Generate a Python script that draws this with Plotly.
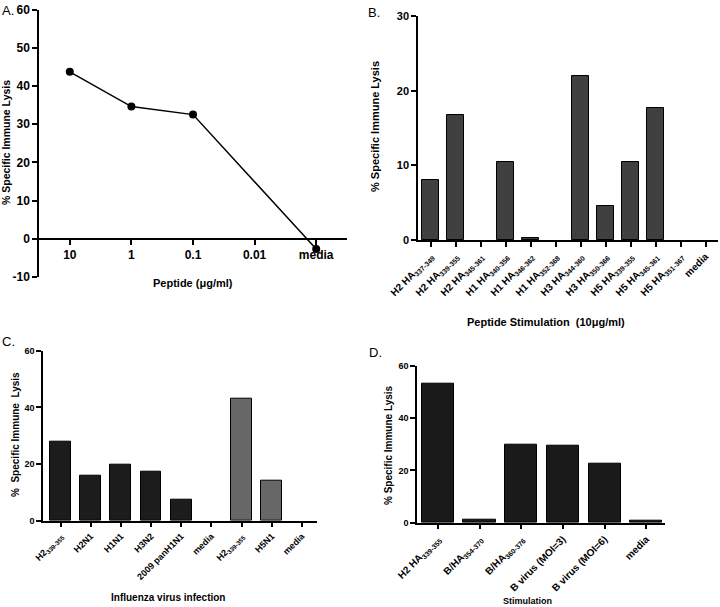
import plotly.graph_objects as go

W, H = 720, 607

# ---------------- data ----------------
a_doses = ["10", "1", "0.1", "0.01", "media"]
a_x = ["10", "1", "0.1", "media"]
a_lysis = [43.7, 34.6, 32.5, -2.7]
a_yticks = [-10, 0, 10, 20, 30, 40, 50, 60]

b_labels = ["H2 HA<sub>337-349</sub>", "H2 HA<sub>339-355</sub>", "H2 HA<sub>345-361</sub>",
            "H1 HA<sub>340-356</sub>", "H1 HA<sub>346-362</sub>", "H1 HA<sub>352-368</sub>",
            "H3 HA<sub>344-360</sub>", "H3 HA<sub>350-366</sub>", "H5 HA<sub>339-355</sub>",
            "H5 HA<sub>345-361</sub>", "H5 HA<sub>351-367</sub>", "media"]
b_lysis = [8.1, 16.8, 0, 10.4, 0.3, 0, 22.0, 4.6, 10.4, 17.7, 0, 0]
b_yticks = [0, 10, 20, 30]

c_labels = ["H2<sub>339-355</sub>", "H2N1", "H1N1", "H3N2", "2009 panH1N1", "media",
            "H2<sub>339-355</sub>", "H5N1", "media"]
c_lysis = [27.9, 15.9, 19.7, 17.3, 7.3, 0, 43.2, 14.1, 0]
c_group = ["a", "a", "a", "a", "a", "a", "b", "b", "b"]
c_yticks = [0, 20, 40, 60]

d_labels = ["H2 HA<sub>339-355</sub>", "B/HA<sub>354-370</sub>", "B/HA<sub>360-376</sub>",
            "B virus (MOI=3)", "B virus (MOI=6)", "media"]
d_lysis = [53.3, 1.2, 30.0, 29.4, 22.7, 0.8]
d_yticks = [0, 20, 40, 60]

# ---------------- helpers ----------------
def px_x(p):
    return p / W

def px_y(p):
    return 1 - p / H

FONT = "Liberation Sans, Arial, sans-serif"

def axis_common(size):
    return dict(showline=True, linecolor="black", linewidth=1.5, ticks="outside",
                ticklen=5, tickwidth=1.5, tickcolor="black", showgrid=False,
                zeroline=False, automargin=False,
                tickfont=dict(family=FONT, size=size, color="black", weight="bold"))

def outline(vals):
    return [1 if v != 0 else 0 for v in vals]

fig = go.Figure()

# Panel A
fig.add_trace(go.Scatter(x=a_x, y=a_lysis, mode="lines+markers", xaxis="x", yaxis="y",
                         line=dict(color="black", width=1.5),
                         marker=dict(color="black", size=8), showlegend=False))

# Panel B
b_x = list(range(len(b_labels)))
fig.add_trace(go.Bar(x=b_x, y=b_lysis, xaxis="x2", yaxis="y2", width=0.66,
                     marker=dict(color="#404040", line=dict(color="black", width=outline(b_lysis))),
                     showlegend=False))

# Panel C
c_x = list(range(len(c_labels)))
c_colors = ["#1c1c1c" if g == "a" else "#676767" for g in c_group]
fig.add_trace(go.Bar(x=c_x, y=c_lysis, xaxis="x3", yaxis="y3", width=0.69,
                     marker=dict(color=c_colors, line=dict(color="black", width=outline(c_lysis))),
                     showlegend=False))

# Panel D
d_x = list(range(len(d_labels)))
fig.add_trace(go.Bar(x=d_x, y=d_lysis, xaxis="x4", yaxis="y4", width=0.77,
                     marker=dict(color="#1a1a1a", line=dict(color="black", width=outline(d_lysis))),
                     showlegend=False))

# domains in pixels
A_dom = dict(x=[px_x(39), px_x(347)], y=[px_y(277), px_y(9.5)])
B_dom = dict(x=[px_x(418), px_x(718)], y=[px_y(240), px_y(16)])
C_dom = dict(x=[px_x(43), px_x(317)], y=[px_y(520.7), px_y(350.7)])
D_dom = dict(x=[px_x(417), px_x(665)], y=[px_y(522.7), px_y(365.7)])

a_y0 = A_dom["y"][0] + (A_dom["y"][1] - A_dom["y"][0]) * (10 / 70)

fig.update_layout(
    width=W, height=H, margin=dict(l=0, r=0, t=0, b=0, pad=0, autoexpand=False),
    paper_bgcolor="white", plot_bgcolor="rgba(0,0,0,0)",
    font=dict(family=FONT, color="black"),
    bargap=0,
    xaxis=dict(**axis_common(12), domain=A_dom["x"], type="category",
               categoryorder="array", categoryarray=a_doses,
               tickvals=a_doses, ticktext=a_doses,
               range=[-0.5, 4.5], anchor="free", position=a_y0),
    yaxis=dict(**axis_common(12), domain=A_dom["y"], range=[-10, 60],
               tickvals=a_yticks, ticktext=[str(v) for v in a_yticks], anchor="x"),
    xaxis2=dict(**axis_common(10), domain=B_dom["x"], range=[-0.5, 11.5],
                tickvals=b_x, ticktext=b_labels, tickangle=-45, anchor="y2"),
    yaxis2=dict(**axis_common(11), domain=B_dom["y"], range=[0, 30],
                tickvals=b_yticks, anchor="x2"),
    xaxis3=dict(**axis_common(9), domain=C_dom["x"], range=[-0.58, 8.5],
                tickvals=c_x, ticktext=c_labels, tickangle=-45, anchor="y3"),
    yaxis3=dict(**axis_common(9), domain=C_dom["y"], range=[0, 60],
                tickvals=c_yticks, anchor="x3"),
    xaxis4=dict(**axis_common(10), domain=D_dom["x"], range=[-0.5, 5.45],
                tickvals=d_x, ticktext=d_labels, tickangle=-45, anchor="y4"),
    yaxis4=dict(**axis_common(9), domain=D_dom["y"], range=[0, 60],
                tickvals=d_yticks, anchor="x4"),
)

def ann(text, x, y, size, bold=True, angle=0, xanchor="center", yanchor="middle"):
    fig.add_annotation(text=text, x=px_x(x), y=px_y(y), xref="paper", yref="paper",
                       showarrow=False, textangle=angle, xanchor=xanchor, yanchor=yanchor,
                       font=dict(family=FONT, size=size, color="black",
                                 weight="bold" if bold else "normal"))

# panel letters
ann("A.", 0, 10, 13, bold=False, xanchor="left")
ann("B.", 366, 13, 13, bold=False, xanchor="left")
ann("C.", 0, 341, 13, bold=False, xanchor="left")
ann("D.", 367, 352, 13, bold=False, xanchor="left")

# axis titles
ann("% Specific Immune Lysis", 6, 143, 10.5, angle=-90)
ann("Peptide (μg/ml)", 193, 283, 11)
ann("% Specific Immune Lysis", 375, 127, 11, angle=-90)
ann("Peptide Stimulation  (10μg/ml)", 546, 322, 11)
ann("%  Specific Immune  Lysis", 15, 435, 10, angle=-90)
ann("Influenza virus infection", 168, 597, 10)
ann("% Specific Immune Lysis", 388, 445, 10, angle=-90)
ann("Stimulation", 527, 601, 9)

fig.write_html("out.html", config={"displayModeBar": False},
               post_script="document.body.style.margin='0';")
